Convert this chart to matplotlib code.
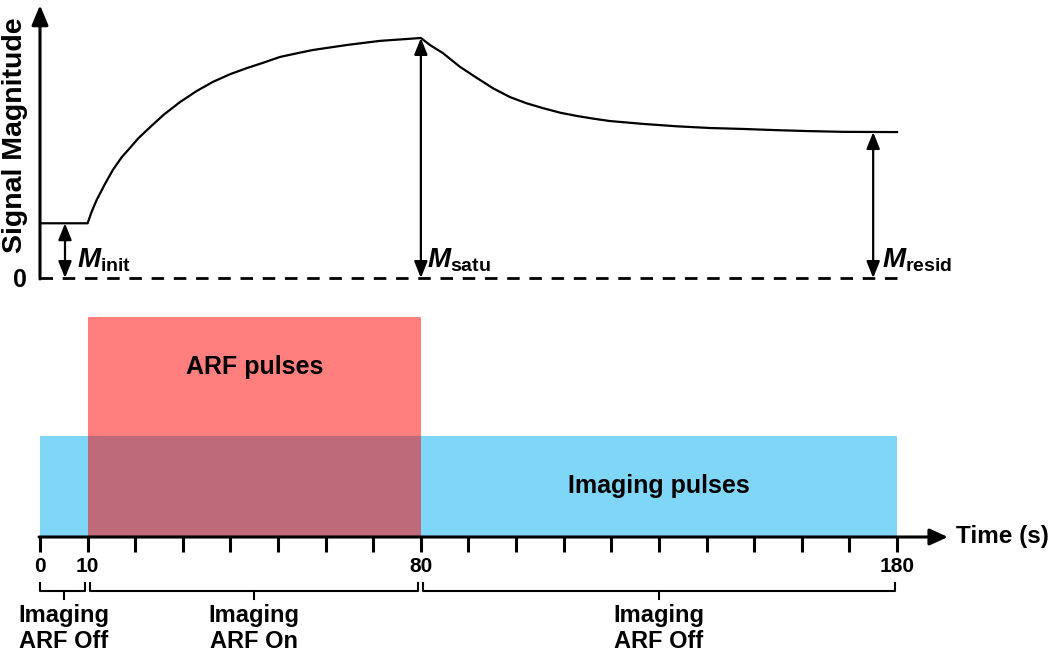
import matplotlib
matplotlib.use('Agg')
import matplotlib.pyplot as plt

plt.rcParams['font.family'] = ['Liberation Sans', 'DejaVu Sans']
plt.rcParams['font.weight'] = 'bold'
plt.rcParams['mathtext.fontset'] = 'custom'
plt.rcParams['mathtext.rm'] = 'Liberation Sans:bold'
plt.rcParams['mathtext.it'] = 'Liberation Sans:italic:bold'
plt.rcParams['mathtext.bf'] = 'Liberation Sans:bold'

# signal curve (time in s, magnitude relative to M_satu)
t_curve = [0, 10, 10.85, 11.9, 13.65, 15.3, 17.15, 18.9, 20.65, 22.5, 25.9, 29.4, 32.9, 36.3,
           39.9, 43.5, 46.9, 50.4, 53.9, 57.3, 64.5, 71.4, 80,
           81.9, 84.6, 88.2, 91.8, 95.2, 98.7, 102.2, 105.6, 109.2, 112.8, 116.2, 119.7,
           126.7, 133.8, 140.7, 147.7, 154.7, 161.7, 168.7, 180]
m_curve = [0.228, 0.228, 0.276, 0.325, 0.392, 0.45, 0.503, 0.542, 0.582, 0.617, 0.679, 0.733, 0.779, 0.817,
           0.849, 0.875, 0.897, 0.921, 0.936, 0.95, 0.971, 0.988, 1.0,
           0.971, 0.9375, 0.88, 0.833, 0.79, 0.754, 0.728, 0.708, 0.689, 0.675, 0.664, 0.654,
           0.642, 0.632, 0.625, 0.621, 0.616, 0.612, 0.609, 0.608]

# double arrows: position in time, top value, label
arrow_t = [5.25, 80, 175]
arrow_m = [0.228, 1.0, 0.608]
arrow_labels = [r'$M_{\mathrm{init}}$', r'$M_{\mathrm{satu}}$', r'$M_{\mathrm{resid}}$']
label_offsets = [2.5, 1.2, 1.9]

# pulse blocks
pulse_names = ['Imaging pulses', 'ARF pulses']
pulse_start = [0, 10]
pulse_end = [180, 80]
pulse_height = [101, 220]
pulse_colors = ['#00AEEF', '#FF0000']

# time axis
tick_times = list(range(0, 190, 10))
labeled_ticks = [0, 10, 80, 180]

# phases
phase_start = [0, 10, 80]
phase_end = [10, 80, 180]
phase_labels = ['Imaging\nARF Off', 'Imaging\nARF On', 'Imaging\nARF Off']

fig = plt.figure(figsize=(10.5, 6.54), dpi=100)
xlim = (-40 / 4.761, 1010 / 4.761)

# ---- top: signal ----
ax1 = fig.add_axes([0, 354 / 654, 1, 300 / 654])
ax1.set_xlim(*xlim)
ax1.set_ylim(-22 / 240, 278 / 240)
ax1.axis('off')

ax1.plot(t_curve, m_curve, color='black', lw=1.6, solid_joinstyle='round')
ax1.plot([0, 180], [0, 0], color='black', lw=2, linestyle=(0, (4.5, 3.5)))
ax1.annotate('', xy=(0, 1.137), xytext=(0, -0.004),
             arrowprops=dict(arrowstyle='-|>,head_length=1.2,head_width=0.5',
                             lw=2.2, color='black', shrinkA=0, shrinkB=0), annotation_clip=False)

for t, m, lab, off in zip(arrow_t, arrow_m, arrow_labels, label_offsets):
    ax1.annotate('', xy=(t, m), xytext=(t, 0),
                 arrowprops=dict(arrowstyle='<|-|>,head_length=1.0,head_width=0.4',
                                 lw=1.6, color='black', shrinkA=0, shrinkB=0))
    ax1.text(t + off, 0.042, lab, fontsize=20, ha='left', va='baseline')

ax1.text(-5.25, 0.596, 'Signal Magnitude', rotation=90, fontsize=20.5,
         ha='center', va='center')
ax1.text(-4.2, -0.008, '0', fontsize=18, ha='center', va='center')

# ---- bottom: pulses and time ----
ax2 = fig.add_axes([0, 0, 1, 354 / 654])
ax2.set_xlim(*xlim)
ax2.set_ylim(-117, 237)
ax2.axis('off')

for name, s, e, h, c in zip(pulse_names, pulse_start, pulse_end, pulse_height, pulse_colors):
    ax2.bar(s, h, width=e - s, align='edge', color=c, alpha=0.5, linewidth=0)

# imaging label sits in the part not covered by the ARF block
ax2.text((pulse_end[1] + pulse_end[0]) / 2, pulse_height[0] / 2, pulse_names[0],
         fontsize=18, ha='center', va='center')
ax2.text((pulse_start[1] + pulse_end[1]) / 2, pulse_height[1] - 50, pulse_names[1],
         fontsize=18, ha='center', va='center')

ax2.annotate('', xy=(190.7, 0), xytext=(-0.2, 0),
             arrowprops=dict(arrowstyle='-|>,head_length=1.1,head_width=0.5',
                             lw=2.2, color='black', shrinkA=0, shrinkB=0), annotation_clip=False)
ax2.vlines(tick_times, -15, 0, color='black', lw=2.2)
for t in labeled_ticks:
    ax2.text(t, -30, str(t), fontsize=15, ha='center', va='center')
ax2.text(192.5, 0, 'Time (s)', fontsize=17.5, ha='left', va='center')

for s, e, lab in zip(phase_start, phase_end, phase_labels):
    a = s + 0.5 if s > 0 else s
    b = e - 0.5
    mid = (s + e) / 2
    ax2.plot([a, a, b, b], [-46, -54, -54, -46], color='black', lw=1.5)
    ax2.plot([mid, mid], [-54, -62], color='black', lw=1.5)
    ax2.text(mid, -67, lab, fontsize=17, ha='center', va='top', linespacing=1.15)

fig.savefig('out.png', dpi=100)
